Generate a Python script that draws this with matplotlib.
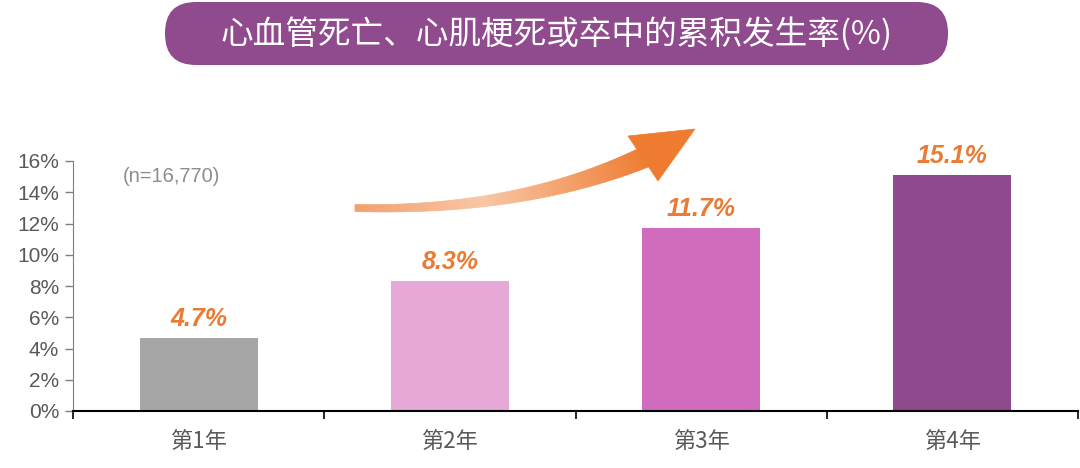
import numpy as np
import matplotlib.pyplot as plt
from matplotlib.patches import FancyBboxPatch, Polygon
from matplotlib.colors import to_rgb
from matplotlib.ticker import FixedLocator

plt.rcParams['font.family'] = ['Liberation Sans', 'Noto Sans CJK SC', 'DejaVu Sans']

years = ['第1年', '第2年', '第3年', '第4年']
rates = [4.7, 8.3, 11.7, 15.1]
bar_colors = ['#A6A6A6', '#E6A8D7', '#D06BBE', '#8F4A8F']
title = '心血管死亡、心肌梗死或卒中的累积发生率(%)'
note = '(n=16,770)'
yticks = [0, 2, 4, 6, 8, 10, 12, 14, 16]

fig = plt.figure(figsize=(10.8, 4.68), dpi=100)
ax = fig.add_axes([73/1080, 1-411/468, 1005/1080, 250/468])

x = np.arange(len(years))
ax.bar(x, rates, width=0.47, color=bar_colors, zorder=2)
for xi, v in zip(x, rates):
    ax.annotate(f'{v}%', (xi, v), xytext=(0, 5), textcoords='offset points',
                ha='center', va='bottom', fontsize=18, fontweight='bold',
                style='italic', color='#E97B35')

ax.set_xlim(-0.5, 3.5)
ax.set_ylim(0, 16)
ax.set_yticks(yticks)
ax.set_yticklabels([f'{t}%' for t in yticks], fontsize=15, color='#595959')
ax.set_xticks(x)
ax.set_xticklabels(years, fontsize=16, color='#595959',
                   family=['Noto Sans CJK SC', 'DejaVu Sans'])
ax.xaxis.set_minor_locator(FixedLocator(np.arange(-0.5, 4, 1)))
ax.tick_params(axis='x', which='major', length=0, pad=14)
ax.tick_params(axis='x', which='minor', length=6, width=1.2, color='black')
ax.tick_params(axis='y', length=6, width=1, color='#7F7F7F', pad=4)
for s in ['top', 'right']:
    ax.spines[s].set_visible(False)
ax.spines['bottom'].set_linewidth(1.5)
ax.spines['bottom'].set_color('black')
ax.spines['left'].set_color('#7F7F7F')
ax.text(-0.11, 15.0, note, ha='center', va='center', fontsize=14.5, color='#8C8C8C')

# overlay in pixel coordinates for banner and arrow
ov = fig.add_axes([0, 0, 1, 1], zorder=5)
ov.set_xlim(0, 1080)
ov.set_ylim(468, 0)
ov.axis('off')
ov.patch.set_visible(False)

ov.add_patch(FancyBboxPatch((165, 2), 783, 63,
                            boxstyle='round,pad=0,rounding_size=31',
                            fc='#904A8E', ec='none'))
ov.text(557, 34, title, ha='center', va='center', fontsize=23.5,
        color='white', family=['Noto Sans CJK SC', 'DejaVu Sans'],
        fontweight='light')

# curved gradient arrow
p0 = np.array([355, 208])
p1 = np.array([520, 212])
p2 = np.array([645, 157])
n = 80
t = np.linspace(0, 1, n)
pts = ((1-t)**2)[:, None]*p0 + (2*(1-t)*t)[:, None]*p1 + (t**2)[:, None]*p2
d = (-2*(1-t))[:, None]*p0 + (2*(1-2*t))[:, None]*p1 + (2*t)[:, None]*p2
d = d/np.linalg.norm(d, axis=1)[:, None]
nrm = np.stack([-d[:, 1], d[:, 0]], axis=1)
w = 3.5 + 7*t**1.5
upper = pts + nrm*w[:, None]
lower = pts - nrm*w[:, None]
stops = [(0, '#F2A06E'), (0.4, '#F8C6A4'), (1, '#EE7B30')]

def grad(tt):
    for (a, ca), (b, cb) in zip(stops[:-1], stops[1:]):
        if tt <= b:
            f = (tt-a)/(b-a)
            return tuple((1-f)*np.array(to_rgb(ca)) + f*np.array(to_rgb(cb)))
    return to_rgb(stops[-1][1])

for i in range(n-1):
    quad = [upper[i], upper[i+1], lower[i+1], lower[i]]
    ov.add_patch(Polygon(quad, closed=True, fc=grad(t[i]), ec=grad(t[i]), lw=0.5))
ov.add_patch(Polygon([(695, 129), (628, 136), (658, 181)], closed=True,
                     fc='#EE7B30', ec='#EE7B30', lw=0.5))

fig.savefig('out.png', dpi=100)
